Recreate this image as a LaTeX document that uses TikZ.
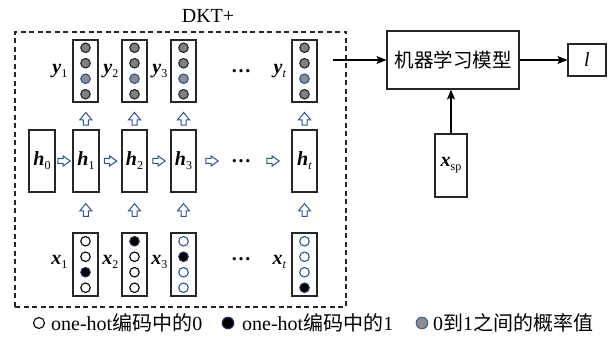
\documentclass[tikz,border=0pt]{standalone}
\usepackage{fontspec}
\setmainfont{Liberation Serif}
\newfontfamily\cjk{Noto Sans CJK SC}
\usetikzlibrary{arrows.meta}

\definecolor{arrowblue}{HTML}{2F5496}
\definecolor{dotgray}{HTML}{808080}
\definecolor{boxline}{HTML}{262626}

% bold italic symbol with an upright (or given) subscript
\newcommand\vlab[2]{\textbf{\textit{#1}}\raisebox{-4pt}{\fontsize{12}{12}\selectfont #2}}

\begin{document}
\begin{tikzpicture}[x=1pt,y=-1pt,
  font=\fontsize{20}{22}\selectfont,
  cell/.style={draw=boxline, line width=1.1pt, inner sep=0pt,
               minimum width=25pt, minimum height=62pt},
  frame/.style={draw=boxline, line width=1.1pt, inner sep=0pt},
  lab/.style={inner sep=0pt, anchor=east},
  dot/.style={circle, inner sep=0pt, minimum size=9.5pt, line width=1.1pt},
  c0/.style={dot, draw=black, fill=white},
  c0b/.style={dot, draw=arrowblue, fill=white},
  c1/.style={dot, draw=arrowblue!60!black, fill=black},
  cp/.style={dot, draw=black!85, fill=dotgray},
  cpb/.style={dot, draw=arrowblue, fill=dotgray!90!white},
  conn/.style={draw=black, line width=1.1pt, -{Stealth[length=10pt,width=8pt,inset=2pt]}},
  uparr/.pic={\draw[arrowblue, line width=1pt, fill=white, line join=miter]
      (0,-6.5) -- (6,0.8) -- (2.5,0.8) -- (2.5,6.2) -- (-2.5,6.2) -- (-2.5,0.8) -- (-6,0.8) -- cycle;},
  rarr/.pic={\draw[arrowblue, line width=1pt, fill=white, line join=miter]
      (6.2,0) -- (-0.8,5) -- (-0.8,2.5) -- (-6.2,2.5) -- (-6.2,-2.5) -- (-0.8,-2.5) -- (-0.8,-5) -- cycle;}
]
\useasboundingbox (0,0) rectangle (614,339);

% DKT+ frame
\node[draw=boxline, dashed, dash pattern=on 5pt off 3.5pt, line width=1.1pt,
      minimum width=331pt, minimum height=275pt, inner sep=0pt] (dkt) at (180.5,169.5) {};
\node (dkttitle) at (208,16) {DKT+};

% output vectors y
\foreach \n/\xc in {1/85.5,2/134.5,3/183.5,t/304.5} {
  \node[cell] (y\n) at (\xc,71) {};
  \node[cp]  (y\n a) at (\xc,47.75) {};
  \node[cp]  (y\n b) at (\xc,63.25) {};
  \node[cpb] (y\n c) at (\xc,78.75) {};
  \node[cp]  (y\n d) at (\xc,94.25) {};
}
\node[lab] (ly1) at ([xshift=-5pt]y1.west) {\vlab{y}{1}};
\node[lab] (ly2) at ([xshift=-3pt]y2.west) {\vlab{y}{2}};
\node[lab] (ly3) at ([xshift=-3pt]y3.west) {\vlab{y}{3}};
\node[lab] (lyt) at ([xshift=-5pt]yt.west) {\vlab{y}{\textit{t}}};
\node (dotsy) at (241,71) {\textbf{…}};

% hidden states h
\node[cell, minimum width=26pt] (h0) at (42,161) {\vlab{h}{0}};
\node[cell, minimum width=26pt] (h1) at (86,161) {\vlab{h}{1}};
\node[cell] (h2) at (134.5,161) {\vlab{h}{2}};
\node[cell] (h3) at (183.5,161) {\vlab{h}{3}};
\node (dotsh) at (241,161) {\textbf{…}};
\node[cell] (ht) at (304.5,161) {\vlab{h}{\textit{t}}};

% one-hot inputs x
\foreach \n/\xc in {1/85.5,2/134.5,3/183.5,t/304.5}
  \node[cell, minimum height=63pt] (x\n) at (\xc,264.5) {};
\node[c0] (x1a) at (85.5,241.25) {};
\node[c0] (x1b) at (85.5,256.75) {};
\node[c1] (x1c) at (85.5,272.25) {};
\node[c0] (x1d) at (85.5,287.75) {};
\node[c1] (x2a) at (134.5,241.25) {};
\node[c0] (x2b) at (134.5,256.75) {};
\node[c0] (x2c) at (134.5,272.25) {};
\node[c0] (x2d) at (134.5,287.75) {};
\node[c0b] (x3a) at (183.5,241.25) {};
\node[c1]  (x3b) at (183.5,256.75) {};
\node[c0b] (x3c) at (183.5,272.25) {};
\node[c0b] (x3d) at (183.5,287.75) {};
\node[c0b] (xta) at (304.5,241.25) {};
\node[c0b] (xtb) at (304.5,256.75) {};
\node[c0b] (xtc) at (304.5,272.25) {};
\node[c1]  (xtd) at (304.5,287.75) {};
\node[lab] (lx1) at ([xshift=-5pt,yshift=3pt]x1.west) {\vlab{x}{1}};
\node[lab] (lx2) at ([xshift=-3pt,yshift=3pt]x2.west) {\vlab{x}{2}};
\node[lab] (lx3) at ([xshift=-3pt,yshift=3pt]x3.west) {\vlab{x}{3}};
\node[lab] (lxt) at ([xshift=-5pt,yshift=3pt]xt.west) {\vlab{x}{\textit{t}}};
\node (dotsx) at (241,259) {\textbf{…}};

% recurrent links h -> h
\path (h0) -- (h1) pic[pos=0.5] {rarr};
\path (h1) -- (h2) pic[pos=0.5] {rarr};
\path (h2) -- (h3) pic[pos=0.5] {rarr};
\path (h3) -- (dotsh) pic[pos=0.5] {rarr};
\path (dotsh) -- (ht) pic[pos=0.5] {rarr};

% links x -> h -> y
\foreach \n in {1,2,3,t} {
  \path (h\n.north) -- (y\n.south) pic[pos=0.39] {uparr};
  \path (x\n.north) -- (h\n.south) pic[pos=0.56] {uparr};
}

% downstream model
\node[frame, minimum width=132pt, minimum height=58pt] (ml) at (453,60)
  {\cjk\fontsize{19.5}{20}\selectfont 机器学习模型};
\node[frame, minimum width=38pt, minimum height=32pt] (lout) at (587,60) {\textit{l}};
\node[frame, minimum width=32pt, minimum height=63pt] (xsp) at (451,165.5) {\vlab{x}{sp}};
\coordinate (yout) at (333,60);

\draw[conn] (yout) -- (ml.west);
\draw[conn] (ml.east) -- (lout.west);
\draw[conn] (xsp.north) -- (xsp.north |- ml.south);

% legend
\node[c0, minimum size=11pt] (k0) at (39,323) {};
\node[anchor=west, inner sep=0pt] (t0) at (51,323) {one-hot{\cjk 编码中的}0};
\node[c1, minimum size=11.5pt] (k1) at (228,323) {};
\node[anchor=west, inner sep=0pt] (t1) at (242,323) {one-hot{\cjk 编码中的}1};
\node[cpb, minimum size=11.5pt, draw=arrowblue!70!gray] (k2) at (422,323) {};
\node[anchor=west, inner sep=0pt] (t2) at (433,323) {0{\cjk 到}1{\cjk 之间的概率值}};
\end{tikzpicture}
\end{document}
